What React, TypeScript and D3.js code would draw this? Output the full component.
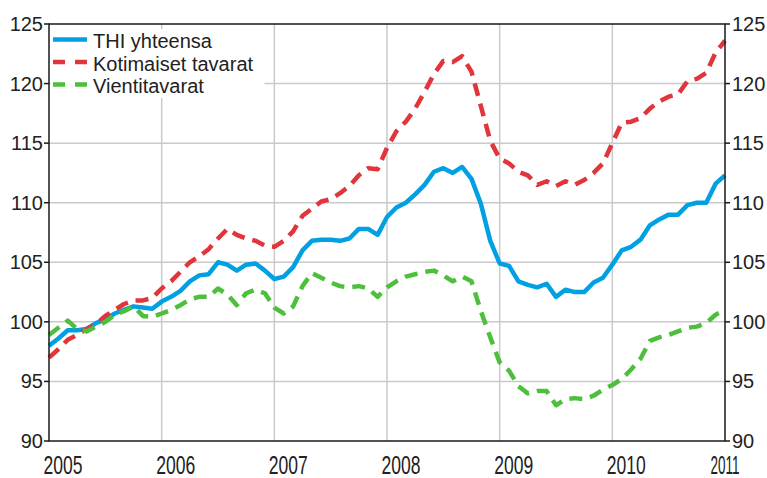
import * as d3 from "d3";

const years = ["2005", "2006", "2007", "2008", "2009", "2010", "2011"];
const yTicks = [90, 95, 100, 105, 110, 115, 120, 125];

// monthly index values, Jan 2005 .. Jan 2011
const thi = [
  98.0, 98.6, 99.3, 99.3, 99.4, 99.9, 100.2, 100.7, 101.0, 101.3, 101.2, 101.1,
  101.7, 102.1, 102.6, 103.4, 103.9, 104.0, 105.0, 104.8, 104.3, 104.8, 104.9, 104.3,
  103.6, 103.8, 104.6, 106.0, 106.8, 106.9, 106.9, 106.8, 107.0, 107.8, 107.8, 107.3,
  108.8, 109.6, 110.0, 110.7, 111.5, 112.6, 112.9, 112.5, 113.0, 112.0, 109.9, 106.8,
  104.9, 104.7, 103.4, 103.1, 102.9, 103.2, 102.1, 102.7, 102.5, 102.5, 103.3, 103.7,
  104.8, 106.0, 106.3, 106.9, 108.1, 108.6, 109.0, 109.0, 109.8, 110.0, 110.0, 111.6,
  112.3,
];
const kotimaiset = [
  97.0, 97.7, 98.5, 98.9, 99.4, 99.8, 100.5, 101.0, 101.5, 101.8, 101.8, 102.0,
  102.8, 103.4, 104.2, 105.0, 105.5, 106.1, 107.0, 107.8, 107.3, 107.0, 106.8, 106.4,
  106.3, 106.8, 107.6, 108.9, 109.5, 110.1, 110.3, 110.8, 111.4, 112.3, 112.9, 112.8,
  114.6, 116.0, 116.8, 117.9, 119.3, 120.8, 121.9, 121.8, 122.3, 121.0, 118.1, 115.2,
  113.7, 113.3, 112.6, 112.3, 111.5, 111.8, 111.4, 111.8, 111.5, 111.9, 112.5, 113.3,
  115.0, 116.7, 116.8, 117.1, 117.9, 118.5, 118.9, 119.1, 120.2, 120.4, 120.9, 122.6,
  123.6,
];
const vienti = [
  98.9, 99.5, 100.1, 99.4, 99.2, 99.6, 100.0, 100.6, 100.9, 101.3, 100.5, 100.4,
  100.7, 101.0, 101.4, 101.9, 102.1, 102.1, 102.8, 102.3, 101.4, 102.4, 102.7, 102.4,
  101.2, 100.7, 101.3, 103.0, 104.1, 103.7, 103.3, 103.0, 102.9, 103.0, 102.8, 102.1,
  102.9, 103.4, 103.8, 104.0, 104.2, 104.3, 103.9, 103.4, 103.8, 103.4, 100.9, 98.7,
  96.6, 95.9, 94.6, 94.0, 94.2, 94.2, 93.0, 93.5, 93.6, 93.5, 93.8, 94.3,
  94.7, 95.2, 96.0, 96.9, 98.4, 98.7, 98.9, 99.2, 99.5, 99.6, 99.9, 100.6,
  101.0,
];

const series = [
  { label: "THI yhteensa", values: thi, color: "#00a0e3", dash: "" },
  { label: "Kotimaiset tavarat", values: kotimaiset, color: "#e0353a", dash: "13,8" },
  { label: "Vientitavarat", values: vienti, color: "#4dbf3d", dash: "13,8" },
];

const W = 767;
const H = 478;
const margin = { top: 24, right: 42, bottom: 37, left: 49 };
const FONT = "Arial, 'Liberation Sans', sans-serif";

export default function App() {
  const x = d3
    .scaleLinear()
    .domain([0, (years.length - 1) * 12])
    .range([margin.left, W - margin.right]);
  const y = d3
    .scaleLinear()
    .domain([90, 125])
    .range([H - margin.bottom, margin.top]);

  const line = d3
    .line<number>()
    .x((_, i) => x(i))
    .y((d) => y(d));

  const x0 = x.range()[0];
  const x1 = x.range()[1];
  const y0 = y.range()[0];
  const y1 = y.range()[1];

  return (
    <svg
      width={W}
      height={H}
      style={{ position: "absolute", left: 0, top: 0, background: "#fff" }}
      fontFamily={FONT}
    >
      <rect x={0} y={0} width={W} height={H} fill="#fff" />

      {/* grid */}
      {yTicks.slice(1, -1).map((t) => (
        <line key={"gy" + t} x1={x0} x2={x1} y1={y(t)} y2={y(t)} stroke="#cacaca" strokeWidth={1.5} />
      ))}
      {years.slice(1, -1).map((_, i) => (
        <line key={"gx" + i} x1={x((i + 1) * 12)} x2={x((i + 1) * 12)} y1={y1} y2={y0} stroke="#cacaca" strokeWidth={1.5} />
      ))}

      {/* series */}
      {series.map((s) => (
        <path
          key={s.label}
          d={line(s.values) ?? ""}
          fill="none"
          stroke={s.color}
          strokeWidth={4.5}
          strokeDasharray={s.dash || undefined}
          strokeLinejoin="round"
        />
      ))}

      {/* frame */}
      <rect x={x0} y={y1} width={x1 - x0} height={y0 - y1} fill="none" stroke="#1a1a1a" strokeWidth={1.5} />

      {/* y axes */}
      {yTicks.map((t) => (
        <g key={"ty" + t}>
          <line x1={x0 - 5} x2={x0} y1={y(t)} y2={y(t)} stroke="#1a1a1a" strokeWidth={1.5} />
          <line x1={x1} x2={x1 + 5} y1={y(t)} y2={y(t)} stroke="#1a1a1a" strokeWidth={1.5} />
          <text x={x0 - 6} y={y(t) + 7} textAnchor="end" fontSize={20} fill="#222">
            {t}
          </text>
          <text x={x1 + 7} y={y(t) + 7} textAnchor="start" fontSize={20} fill="#222">
            {t}
          </text>
        </g>
      ))}

      {/* x labels */}
      {years.map((yr, i) => {
        const last = i === years.length - 1;
        const cx = x(i * 12) + (last ? 0 : 14);
        const wdt = last ? 29 : 39;
        return (
          <text
            key={yr}
            x={cx - wdt / 2}
            y={474}
            fontSize={25}
            fill="#222"
            textLength={wdt}
            lengthAdjust="spacingAndGlyphs"
          >
            {yr}
          </text>
        );
      })}

      {/* legend */}
      <rect x={x0 + 1.5} y={29} width={214} height={69} fill="#fff" />
      {series.map((s, i) => {
        const ly = 39.5 + i * 22.5;
        return (
          <g key={"lg" + s.label}>
            <line
              x1={53}
              x2={87}
              y1={ly}
              y2={ly}
              stroke={s.color}
              strokeWidth={4.5}
              strokeDasharray={s.dash ? "12,10" : undefined}
            />
            <text x={93} y={ly + 8.5} fontSize={20} fill="#222">
              {s.label}
            </text>
          </g>
        );
      })}
    </svg>
  );
}
